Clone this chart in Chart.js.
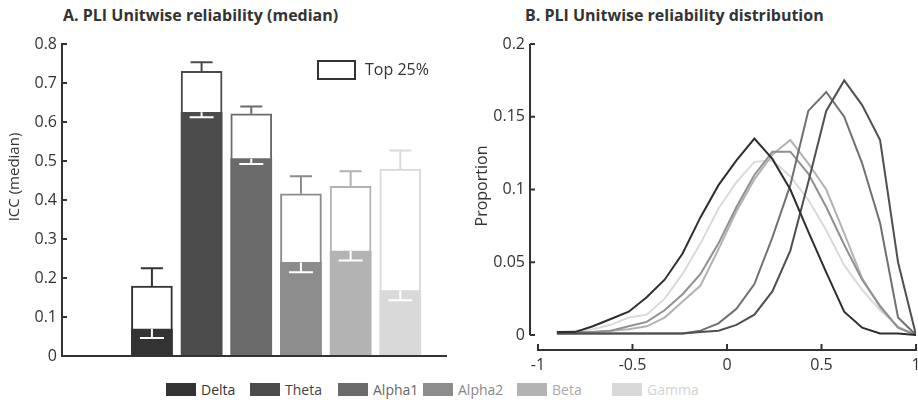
<!DOCTYPE html>
<html>
<head>
<meta charset="utf-8">
<script src="https://cdn.jsdelivr.net/npm/chart.js@4.4.1/dist/chart.umd.min.js"></script>
<style>
  body { margin: 0; background: #fff; }
  #wrap { position: relative; width: 918px; height: 407px; background: #fff; font-family: 'Open Sans', sans-serif; }
  .ttl { position: absolute; top: 4px; font-weight: bold; font-size: 16px; color: #333; white-space: nowrap; }
  canvas { position: absolute; top: 0; }
  .lg { position: absolute; top: 381px; height: 17px; display: flex; align-items: center; font-size: 14px; white-space: nowrap; }
  .lg span.sw { display: inline-block; width: 30px; height: 13px; margin-right: 5px; }
</style>
</head>
<body>
<div id="wrap">
  <div class="ttl" style="left:63px">A. PLI Unitwise reliability (median)</div>
  <div class="ttl" style="left:525px">B. PLI Unitwise reliability distribution</div>
  <canvas id="left" width="460" height="380" style="left:0"></canvas>
  <canvas id="right" width="458" height="380" style="left:460px"></canvas>
</div>
<script>
// bands and their greys
var bands = ['Delta', 'Theta', 'Alpha1', 'Alpha2', 'Beta', 'Gamma'];
var bandColors = ['#333333', '#4b4b4b', '#6b6b6b', '#8c8c8c', '#b3b3b3', '#d9d9d9'];
var lineColors = ['#2e2e2e', '#505050', '#707070', '#909090', '#b2b2b2', '#dadada'];
var textColors = ['#333333', '#444444', '#666666', '#888888', '#aaaaaa', '#d3d3d3'];

// panel A: median ICC, and median of the top 25%
var barPos = [1, 2, 3, 4, 5, 6];
var iccMedian = [0.069, 0.625, 0.506, 0.240, 0.269, 0.168];
var iccMedianLow = [0.046, 0.612, 0.492, 0.215, 0.245, 0.143];
var iccTop = [0.179, 0.730, 0.621, 0.416, 0.435, 0.479];
var iccTopHigh = [0.225, 0.753, 0.640, 0.461, 0.474, 0.527];
var iccTicks = [0, 0.1, 0.2, 0.3, 0.4, 0.5, 0.6, 0.7, 0.8];

// panel B: distribution of unitwise ICC
var iccBins = [-0.9, -0.805, -0.71, -0.615, -0.52, -0.425, -0.33, -0.235, -0.14, -0.045,
               0.05, 0.145, 0.24, 0.335, 0.43, 0.525, 0.62, 0.715, 0.81, 0.905, 1.0];
var propDelta  = [0.002, 0.002, 0.006, 0.011, 0.016, 0.026, 0.038, 0.056, 0.081, 0.103, 0.120, 0.135, 0.121, 0.100, 0.071, 0.043, 0.016, 0.005, 0.001, 0.001, 0.000];
var propTheta  = [0.001, 0.001, 0.001, 0.001, 0.001, 0.001, 0.001, 0.001, 0.002, 0.003, 0.007, 0.014, 0.030, 0.058, 0.105, 0.154, 0.175, 0.158, 0.134, 0.050, 0.000];
var propAlpha1 = [0.001, 0.001, 0.001, 0.001, 0.001, 0.001, 0.001, 0.001, 0.003, 0.008, 0.018, 0.035, 0.067, 0.103, 0.154, 0.167, 0.150, 0.118, 0.077, 0.012, 0.000];
var propAlpha2 = [0.002, 0.002, 0.002, 0.003, 0.006, 0.009, 0.017, 0.028, 0.042, 0.063, 0.088, 0.110, 0.126, 0.126, 0.111, 0.088, 0.062, 0.038, 0.020, 0.005, 0.000];
var propBeta   = [0.001, 0.001, 0.002, 0.003, 0.004, 0.006, 0.012, 0.023, 0.034, 0.059, 0.085, 0.107, 0.124, 0.134, 0.118, 0.100, 0.070, 0.039, 0.019, 0.005, 0.000];
var propGamma  = [0.002, 0.003, 0.004, 0.007, 0.012, 0.014, 0.025, 0.042, 0.063, 0.087, 0.105, 0.119, 0.120, 0.109, 0.093, 0.072, 0.048, 0.031, 0.017, 0.006, 0.000];
var propTicks = [0, 0.05, 0.1, 0.15, 0.2];
var binTicks = [-1, -0.5, 0, 0.5, 1];

Chart.defaults.font.family = "'Open Sans', sans-serif";
Chart.defaults.color = '#333';

function pts(xs, ys) {
  return xs.map(function (x, i) { return { x: x, y: ys[i] }; });
}

function noPad(s) {
  s.paddingLeft = 0; s.paddingRight = 0; s.paddingTop = 0; s.paddingBottom = 0;
}

function yTitle(ctx, text, x, y, size) {
  ctx.save();
  ctx.translate(x, y);
  ctx.rotate(-Math.PI / 2);
  ctx.font = size + "px 'Open Sans'";
  ctx.fillStyle = '#333';
  ctx.textAlign = 'center';
  ctx.textBaseline = 'middle';
  ctx.fillText(text, 0, 0);
  ctx.restore();
}

var leftDecor = {
  id: 'leftDecor',
  afterDatasetsDraw: function (chart) {
    var ctx = chart.ctx, xs = chart.scales.x, ys = chart.scales.y;
    ctx.save();
    ctx.lineWidth = 2;
    for (var i = 0; i < bands.length; i++) {
      var x = xs.getPixelForValue(barPos[i]);
      // whisker above the top-25% bar
      ctx.strokeStyle = bandColors[i];
      ctx.beginPath();
      ctx.moveTo(x, ys.getPixelForValue(iccTop[i]));
      ctx.lineTo(x, ys.getPixelForValue(iccTopHigh[i]));
      ctx.moveTo(x - 11, ys.getPixelForValue(iccTopHigh[i]));
      ctx.lineTo(x + 11, ys.getPixelForValue(iccTopHigh[i]));
      ctx.stroke();
      // white whisker inside the median bar
      ctx.strokeStyle = '#fff';
      ctx.beginPath();
      ctx.moveTo(x, ys.getPixelForValue(iccMedian[i]));
      ctx.lineTo(x, ys.getPixelForValue(iccMedianLow[i]));
      ctx.moveTo(x - 12, ys.getPixelForValue(iccMedianLow[i]));
      ctx.lineTo(x + 12, ys.getPixelForValue(iccMedianLow[i]));
      ctx.stroke();
    }
    // axis line on top of bar bases
    var a = chart.chartArea;
    ctx.strokeStyle = '#333';
    ctx.beginPath();
    ctx.moveTo(a.left - 1, a.bottom);
    ctx.lineTo(a.right, a.bottom);
    ctx.stroke();
    ctx.restore();
  },
  afterDraw: function (chart) {
    var ctx = chart.ctx, a = chart.chartArea, ys = chart.scales.y;
    ctx.save();
    ctx.strokeStyle = '#333';
    ctx.lineWidth = 2;
    iccTicks.forEach(function (v) {
      var y = ys.getPixelForValue(v);
      ctx.beginPath();
      ctx.moveTo(a.left, y);
      ctx.lineTo(a.left + 5, y);
      ctx.stroke();
    });
    // "Top 25%" key
    ctx.strokeRect(318, 61, 37, 18);
    ctx.font = "16px 'Open Sans'";
    ctx.fillStyle = '#333';
    ctx.textBaseline = 'middle';
    ctx.fillText('Top 25%', 365, 70);
    ctx.restore();
    yTitle(ctx, 'ICC (median)', 15, 177, 15);
  }
};

new Chart(document.getElementById('left'), {
  type: 'bar',
  data: {
    datasets: [
      {
        label: 'Median',
        data: pts(barPos, iccMedian),
        backgroundColor: bandColors,
        borderWidth: 0,
        barThickness: 41,
        grouped: false
      },
      {
        label: 'Top 25%',
        data: pts(barPos, iccTop),
        backgroundColor: '#fff',
        borderColor: bandColors,
        borderWidth: 2,
        borderSkipped: 'bottom',
        barThickness: 41,
        grouped: false
      }
    ]
  },
  options: {
    responsive: false,
    animation: false,
    layout: { padding: { top: 44, right: 13, left: 0, bottom: 0 } },
    plugins: { legend: { display: false }, tooltip: { enabled: false } },
    scales: {
      x: {
        type: 'linear', min: -0.81, max: 6.94, offset: false,
        ticks: { display: false },
        grid: { display: false, drawTicks: false, offset: false },
        border: { display: false },
        afterFit: function (s) { s.height = 24; noPad(s); }
      },
      y: {
        min: 0, max: 0.8,
        afterBuildTicks: function (s) { s.ticks = iccTicks.map(function (v) { return { value: v }; }); },
        ticks: { font: { size: 16 }, color: '#333', padding: 5, callback: function (v) { return String(v); } },
        grid: { display: false, drawTicks: false },
        border: { color: '#333', width: 2 },
        afterFit: function (s) { s.width = 62; noPad(s); }
      }
    }
  },
  plugins: [leftDecor]
});

var rightDecor = {
  id: 'rightDecor',
  afterDraw: function (chart) {
    var ctx = chart.ctx, a = chart.chartArea, xs = chart.scales.x, ys = chart.scales.y;
    var ax = a.left - 8;
    ctx.save();
    ctx.strokeStyle = '#333';
    ctx.lineWidth = 2;
    ctx.beginPath();
    ctx.moveTo(ax, ys.getPixelForValue(0));
    ctx.lineTo(ax, ys.getPixelForValue(0.2));
    ctx.stroke();
    propTicks.forEach(function (v) {
      var y = ys.getPixelForValue(v);
      ctx.beginPath();
      ctx.moveTo(ax, y);
      ctx.lineTo(ax + 5, y);
      ctx.stroke();
    });
    binTicks.forEach(function (v) {
      var x = xs.getPixelForValue(v);
      ctx.beginPath();
      ctx.moveTo(x, a.bottom);
      ctx.lineTo(x, a.bottom - 6);
      ctx.stroke();
    });
    ctx.restore();
    yTitle(ctx, 'Proportion', 22, 186, 16);
  }
};

var series = [propDelta, propTheta, propAlpha1, propAlpha2, propBeta, propGamma];

new Chart(document.getElementById('right'), {
  type: 'line',
  data: {
    datasets: series.map(function (s, i) {
      return {
        label: bands[i],
        data: pts(iccBins, s),
        borderColor: lineColors[i],
        borderWidth: 2,
        pointRadius: 0,
        tension: 0,
        fill: false
      };
    })
  },
  options: {
    responsive: false,
    animation: false,
    layout: { padding: { top: 44, right: 2, left: 0, bottom: 0 } },
    plugins: { legend: { display: false }, tooltip: { enabled: false } },
    scales: {
      x: {
        type: 'linear', min: -1, max: 1,
        afterBuildTicks: function (s) { s.ticks = binTicks.map(function (v) { return { value: v }; }); },
        ticks: { font: { size: 16 }, color: '#333', padding: 6, maxRotation: 0, callback: function (v) { return String(v); } },
        grid: { display: false, drawTicks: false },
        border: { color: '#333', width: 2 },
        afterFit: function (s) { s.height = 30; noPad(s); }
      },
      y: {
        min: -0.0103, max: 0.2,
        afterBuildTicks: function (s) { s.ticks = propTicks.map(function (v) { return { value: v }; }); },
        ticks: { font: { size: 16 }, color: '#333', padding: 13, callback: function (v) { return String(v); } },
        grid: { display: false, drawTicks: false },
        border: { display: false },
        afterFit: function (s) { s.width = 78; noPad(s); }
      }
    }
  },
  plugins: [rightDecor]
});

// shared band legend under both panels
var legendX = [166, 250, 338, 423, 517, 612];
var wrap = document.getElementById('wrap');
bands.forEach(function (b, i) {
  var item = document.createElement('div');
  item.className = 'lg';
  item.style.left = legendX[i] + 'px';
  item.style.color = textColors[i];
  item.innerHTML = '<span class="sw" style="background:' + bandColors[i] + '"></span>' + b;
  wrap.appendChild(item);
});
</script>
</body>
</html>
